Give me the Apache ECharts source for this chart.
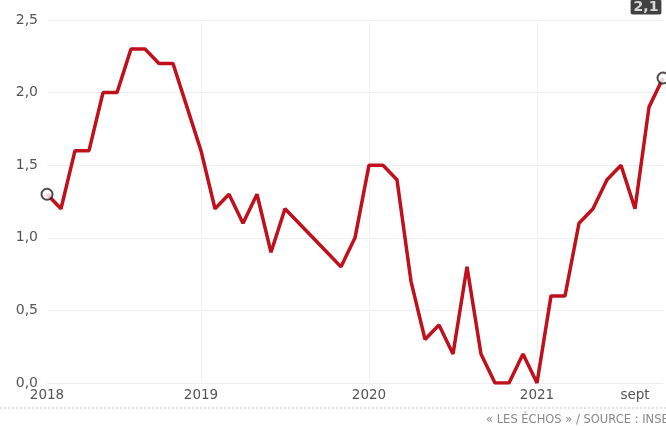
<!DOCTYPE html>
<html lang="fr">
<head>
<meta charset="UTF-8" />
<title>Inflation France 2018-2021</title>
<script src="https://cdn.jsdelivr.net/npm/echarts@6/dist/echarts.min.js"></script>
<style>
  html, body { margin: 0; padding: 0; background: #fff; }
  #chart { width: 666px; height: 426px; }
</style>
</head>
<body>
<div id="chart"></div>
<script>
  // mois de janvier 2018 à septembre 2021
  const months = [];
  for (let y = 2018; y <= 2021; y++) {
    for (let m = 1; m <= 12; m++) {
      if (y === 2021 && m > 9) break;
      months.push(y + '-' + String(m).padStart(2, '0'));
    }
  }
  // glissement annuel des prix (%)
  const inflation = [
    1.3, 1.2, 1.6, 1.6, 2.0, 2.0, 2.3, 2.3, 2.2, 2.2, 1.9, 1.6,
    1.2, 1.3, 1.1, 1.3, 0.9, 1.2, 1.1, 1.0, 0.9, 0.8, 1.0, 1.5,
    1.5, 1.4, 0.7, 0.3, 0.4, 0.2, 0.8, 0.2, 0.0, 0.0, 0.2, 0.0,
    0.6, 0.6, 1.1, 1.2, 1.4, 1.5, 1.2, 1.9, 2.1
  ];
  // étiquettes de l'axe des x (index du mois -> texte)
  const tickIdx = [0, 11, 23, 35, 42];
  const tickLabels = ['2018', '2019', '2020', '2021', 'sept'];
  const gridIdx = [11, 23, 35];

  const fr = v => v.toFixed(1).replace('.', ',');
  const last = inflation.length - 1;
  const font = '"DejaVu Sans", sans-serif';

  const chart = echarts.init(document.getElementById('chart'));
  chart.setOption({
    animation: false,
    textStyle: { fontFamily: font },
    grid: { left: 47, right: 3, top: 20, bottom: 43 },
    xAxis: {
      type: 'category',
      data: months,
      boundaryGap: false,
      axisLine: { show: false },
      axisTick: { show: false },
      axisLabel: {
        interval: i => tickIdx.includes(i),
        formatter: (v, i) => tickLabels[tickIdx.indexOf(i)],
        color: '#555',
        fontSize: 13.5,
        margin: 5
      },
      splitLine: {
        show: true,
        interval: i => gridIdx.includes(i),
        lineStyle: { color: '#eceff3', width: 1 }
      }
    },
    yAxis: {
      type: 'value',
      min: 0,
      max: 2.5,
      interval: 0.5,
      axisLine: { show: false },
      axisTick: { show: false },
      axisLabel: {
        formatter: v => fr(v),
        color: '#555',
        fontSize: 14,
        margin: 9
      },
      splitLine: { lineStyle: { color: '#eceff3', width: 1 } }
    },
    series: [
      {
        type: 'line',
        data: inflation,
        symbol: 'none',
        lineStyle: { color: '#c0101c', width: 3.5 },
        z: 2
      },
      {
        type: 'scatter',
        data: [
          [0, inflation[0]],
          {
            value: [last, inflation[last]],
            label: {
              show: true,
              formatter: p => fr(p.value[1]),
              position: 'top',
              offset: [-17, -52],
              backgroundColor: '#111',
              color: '#fff',
              fontWeight: 'bold',
              fontSize: 14,
              padding: [1, 3, 0, 3],
              borderRadius: 2
            }
          }
        ],
        symbol: 'circle',
        symbolSize: 11,
        itemStyle: { color: '#fff', borderColor: '#222', borderWidth: 2 },
        z: 3
      }
    ],
    graphic: [
      {
        type: 'line',
        shape: { x1: 0, y1: 408, x2: 666, y2: 408 },
        style: { stroke: '#c8c8c8', lineWidth: 1, lineDash: [2, 2] }
      },
      {
        type: 'text',
        right: -10,
        top: 414,
        style: {
          text: '« LES ÉCHOS » / SOURCE : INSEE',
          fill: '#888',
          fontSize: 11.5,
          fontFamily: font
        }
      }
    ]
  });
</script>
</body>
</html>
